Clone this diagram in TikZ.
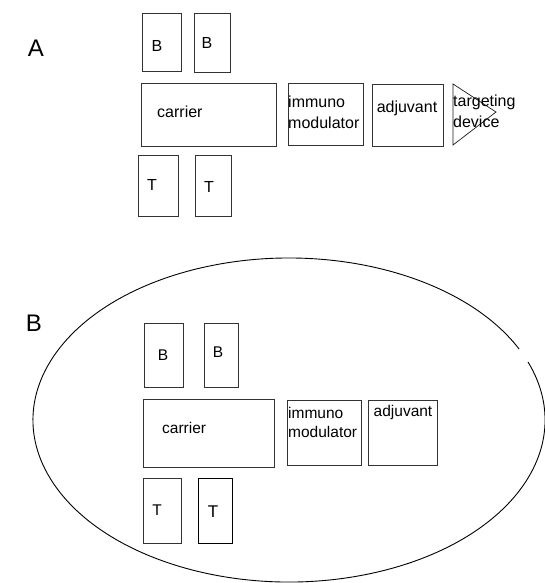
\documentclass[tikz,border=0pt]{standalone}
\usepackage{fontspec}
\setmainfont{Liberation Sans}
\begin{document}
\begin{tikzpicture}[x=1pt,y=-1pt,
  box/.style={draw=black!80,line width=0.7pt,inner sep=0pt},
  lab/.style={inner sep=0pt,font=\fontsize{16}{21}\selectfont,text=black},
  labB/.style={inner sep=0pt,font=\fontsize{15.5}{19}\selectfont,text=black},
  panel/.style={inner sep=0pt,font=\fontsize{24}{26}\selectfont}]
\useasboundingbox (0,0) rectangle (545,583);
% ---------- panel A ----------
\node[panel] (pA) at (36,48) {A};
\node[box,minimum width=39pt,minimum height=58pt] (bA1) at (161.5,42) {};
\node[box,minimum width=36pt,minimum height=59pt] (bA2) at (212,42.5) {};
\node[box,minimum width=135pt,minimum height=63pt] (carA) at (208.5,114.5) {};
\node[box,minimum width=75pt,minimum height=62pt] (imA) at (325.5,114) {};
\node[box,minimum width=71pt,minimum height=62pt] (adA) at (407.5,115) {};
\node[box,minimum width=40pt,minimum height=61pt] (tA1) at (158,185.5) {};
\node[box,minimum width=36pt,minimum height=61pt] (tA2) at (213,185.5) {};
\coordinate (g1) at (453,84);
\coordinate (g2) at (453,145);
\coordinate (g3) at (496,112);
\draw[black!90,line width=0.7pt,line join=miter] (g1) -- (g3) -- (g2) -- cycle;
\node[lab] (lbA1) at (157,46) {B};
\node[lab] (lbA2) at (207,43) {B};
\node[lab] (ltA1) at (152,185) {T};
\node[lab] (ltA2) at (209,187) {T};
\node[lab,anchor=west] (lcA) at (157,112) {carrier};
\node[lab,anchor=west,align=left] (liA) at (288,112.5) {immuno\\modulator};
\node[lab] (laA) at (407,108) {adjuvant};
\node[lab,anchor=west,align=left] (lgA) at (453,111) {targeting\\device};
% ---------- panel B ----------
\draw[black,line width=0.9pt] (289,420) ++(-21:256 and 162)
  arc[start angle=-21,end angle=334,x radius=256,y radius=162];
\node[panel] (pB) at (34,323) {B};
\node[box,minimum width=39pt,minimum height=64pt] (bB1) at (163.5,355) {};
\node[box,minimum width=34pt,minimum height=64pt] (bB2) at (221,355) {};
\node[box,minimum width=131pt,minimum height=68pt] (carB) at (208.5,433) {};
\node[box,minimum width=74pt,minimum height=65pt] (imB) at (324,432.5) {};
\node[box,minimum width=69pt,minimum height=65pt] (adB) at (402.5,432.5) {};
\node[box,minimum width=38pt,minimum height=65pt] (tB1) at (162,510.5) {};
\node[box,draw=black,line width=1pt,minimum width=34pt,minimum height=65pt] (tB2) at (215,510.5) {};
\node[labB] (lbB1) at (163,355) {B};
\node[labB] (lbB2) at (218,352) {B};
\node[labB] (ltB1) at (157,510) {T};
\node[labB,font=\fontsize{17}{19}\selectfont] (ltB2) at (213,512) {T};
\node[labB,anchor=west] (lcB) at (162,428) {carrier};
\node[labB,anchor=west,align=left] (liB) at (288,422.5) {immuno\\modulator};
\node[labB] (laB) at (403,412) {adjuvant};
\end{tikzpicture}
\end{document}
